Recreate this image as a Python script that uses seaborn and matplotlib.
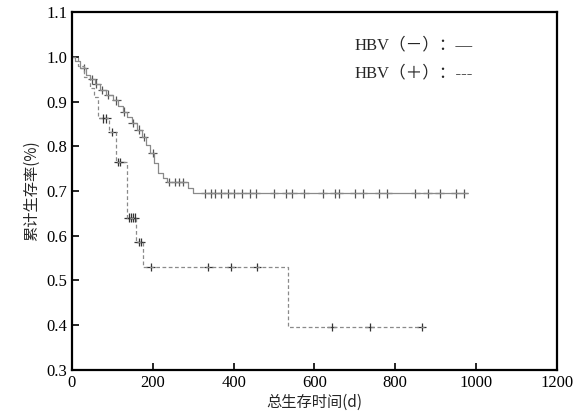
import numpy as np
import pandas as pd
import matplotlib
matplotlib.use("Agg")
import matplotlib.pyplot as plt
import seaborn as sns

# HBV(-) step curve (time in days, cumulative survival)
neg_time = [0, 7, 20, 35, 45, 58, 69, 85, 102, 115, 126, 137, 148, 160, 173, 183, 193, 203, 213, 225, 235, 287, 300, 980]
neg_surv = [1.0, 0.99, 0.975, 0.96, 0.95, 0.94, 0.926, 0.915, 0.903, 0.89, 0.877, 0.865, 0.852, 0.837, 0.821, 0.803, 0.785, 0.762, 0.74, 0.73, 0.72, 0.707, 0.695, 0.695]
neg_cens_t = [30, 50, 60, 75, 90, 110, 130, 150, 165, 178, 200, 240, 255, 265, 275, 330, 345, 355, 370, 385, 400, 420, 440, 455, 500, 530, 545, 575, 620, 650, 660, 700, 720, 760, 780, 850, 880, 910, 950, 970]

# HBV(+) step curve
pos_time = [0, 15, 30, 45, 55, 64, 92, 109, 136, 158, 176, 535, 870]
pos_surv = [1.0, 0.98, 0.955, 0.93, 0.91, 0.863, 0.832, 0.765, 0.64, 0.586, 0.53, 0.396, 0.396]
pos_cens_t = [78, 85, 100, 115, 120, 140, 145, 150, 155, 165, 170, 195, 337, 394, 458, 643, 737, 865]

groups = ["HBV（－）", "HBV（＋）"]
xticks = [0, 200, 400, 600, 800, 1000, 1200]
yticks = [0.3, 0.4, 0.5, 0.6, 0.7, 0.8, 0.9, 1.0, 1.1]


def surv_at(times, survs, t):
    idx = np.searchsorted(times, t, side="right") - 1
    return survs[max(idx, 0)]


curve = pd.concat([
    pd.DataFrame({"time": neg_time, "surv": neg_surv, "group": groups[0]}),
    pd.DataFrame({"time": pos_time, "surv": pos_surv, "group": groups[1]}),
], ignore_index=True)

cens = pd.concat([
    pd.DataFrame({"time": neg_cens_t,
                  "surv": [surv_at(neg_time, neg_surv, t) for t in neg_cens_t],
                  "group": groups[0]}),
    pd.DataFrame({"time": pos_cens_t,
                  "surv": [surv_at(pos_time, pos_surv, t) for t in pos_cens_t],
                  "group": groups[1]}),
], ignore_index=True)

sns.set_theme(style="ticks")
plt.rcParams["font.family"] = ["Liberation Serif", "Noto Sans CJK SC", "DejaVu Sans"]

fig = plt.figure(figsize=(5.85, 4.18), dpi=100)
ax = fig.add_axes([0.123, 0.115, 0.829, 0.856])

sns.lineplot(data=curve, x="time", y="surv", hue="group", style="group",
             palette={groups[0]: "#8a8a8a", groups[1]: "#8a8a8a"},
             dashes={groups[0]: (1, 0), groups[1]: (3, 2)},
             drawstyle="steps-post", estimator=None, legend=False,
             linewidth=0.9, ax=ax)
sns.scatterplot(data=cens, x="time", y="surv", hue="group",
                palette={groups[0]: "#555555", groups[1]: "#333333"},
                marker="+", s=40, linewidth=0.9, legend=False, ax=ax)

ax.set_xlim(0, 1200)
ax.set_ylim(0.3, 1.1)
ax.set_xticks(xticks)
ax.set_xticklabels([str(v) for v in xticks])
ax.set_yticks(yticks)
ax.set_yticklabels([f"{v:.1f}" for v in yticks])
ax.tick_params(direction="in", length=5, width=1.2, labelsize=12, colors="black")
for s in ax.spines.values():
    s.set_linewidth(1.6)
    s.set_color("black")

ax.set_xlabel("总生存时间(d)", fontsize=11, family=["Noto Sans CJK SC", "DejaVu Sans"], labelpad=2)
ax.set_ylabel("累计生存率(%)", fontsize=11, family=["Noto Sans CJK SC", "DejaVu Sans"], labelpad=4)

ax.text(700, 1.026, "HBV（－）：—", fontsize=12, va="center", ha="left",
        family=["Liberation Serif", "Noto Sans CJK SC"])
ax.text(700, 0.964, "HBV（＋）：---", fontsize=12, va="center", ha="left",
        family=["Liberation Serif", "Noto Sans CJK SC"])

fig.savefig("out.png", dpi=100)
